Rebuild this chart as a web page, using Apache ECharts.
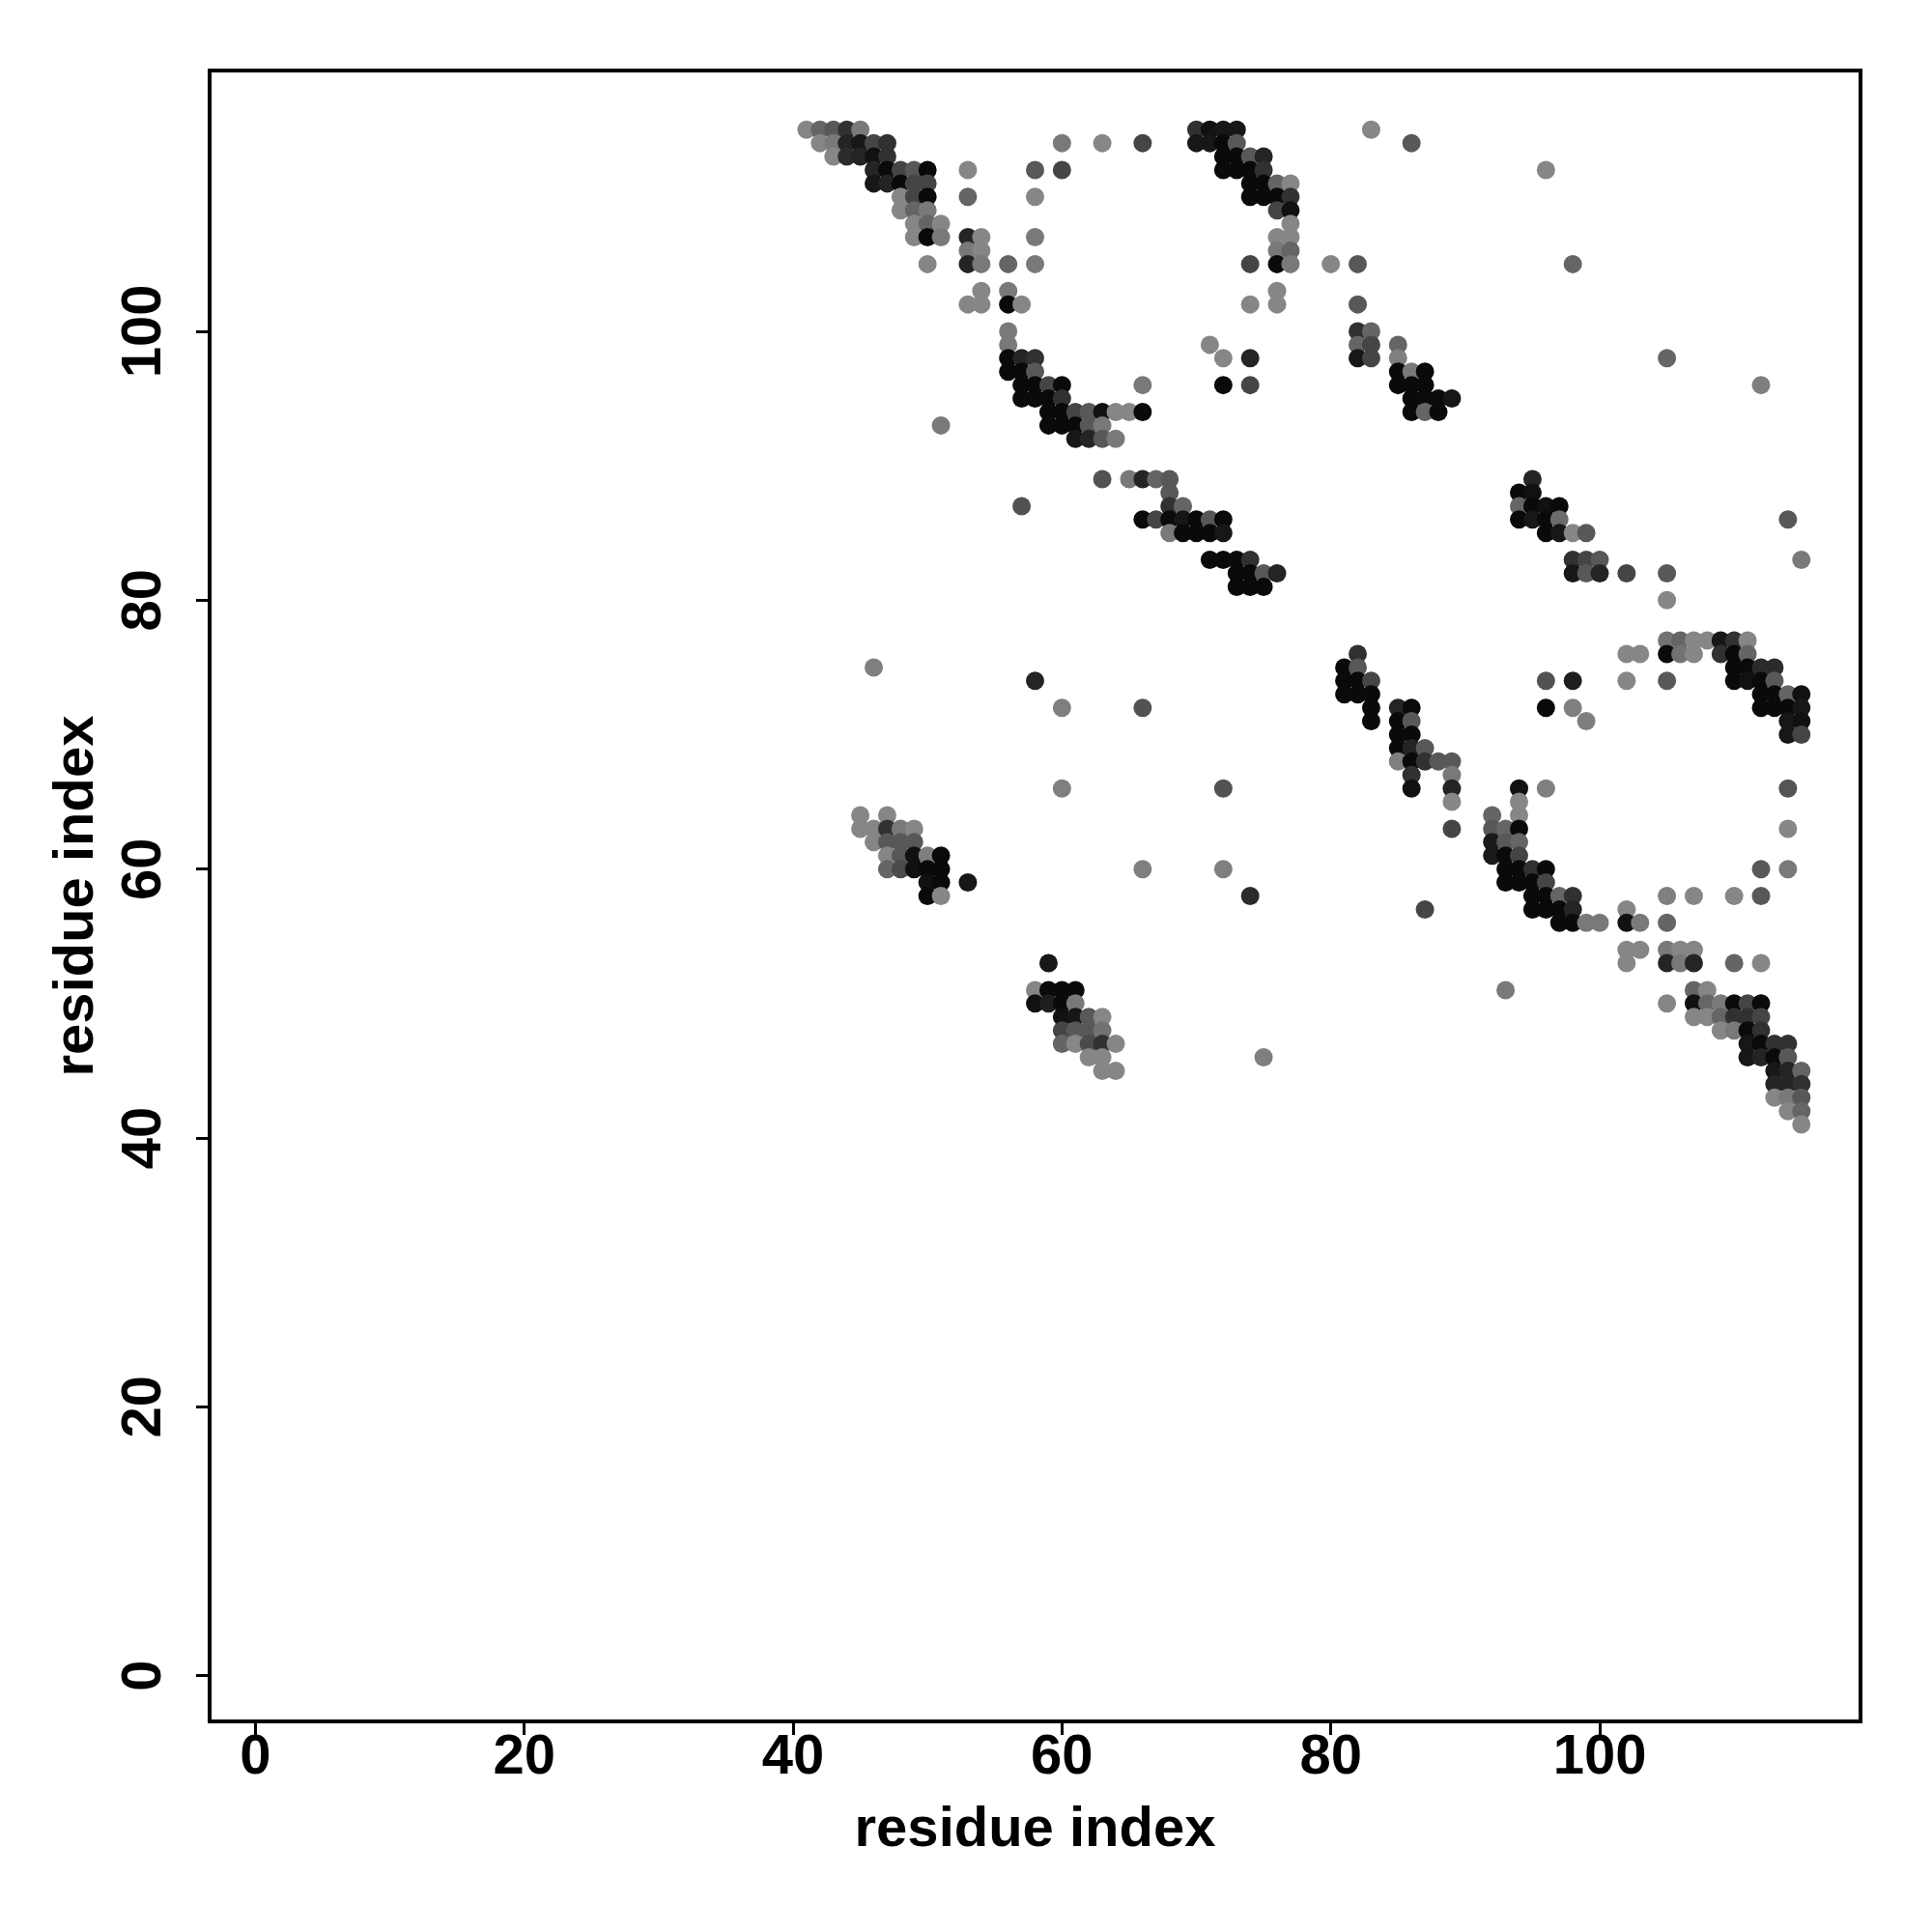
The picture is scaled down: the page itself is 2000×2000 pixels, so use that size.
<!DOCTYPE html>
<html>
<head>
<meta charset="utf-8">
<script src="https://cdn.jsdelivr.net/npm/echarts@6/dist/echarts.min.js"></script>
<style>html,body{margin:0;padding:0;background:#fff}#c{width:2000px;height:2000px}</style>
</head>
<body>
<div id="c"></div>
<script>
// Tick labels
const xTicks = [0, 20, 40, 60, 80, 100];
const yTicks = [0, 20, 40, 60, 80, 100];
const xTitle = 'residue index';
const yTitle = 'residue index';

// Contacts: [residue i, residue j, strength 0..1 (1 = darkest)]
const clusterTopLeft = [
 [41,115,.05],[42,115,.3],[43,115,.4],[44,115,.7],[45,115,.15],
 [42,114,.05],[43,114,.15],[44,114,.8],[45,114,.9],[46,114,.55],[47,114,.7],
 [43,113,.05],[44,113,.75],[45,113,.8],[46,113,.95],[47,113,.7],
 [46,112,.8],[47,112,1],[48,112,.55],[49,112,.4],[50,112,1],
 [46,111,.9],[47,111,.8],[48,111,1],[49,111,.55],[50,111,.55],
 [48,110,.05],[49,110,.55],[50,110,1],
 [48,109,.05],[49,109,.3],[50,109,.15],
 [49,108,.05],[50,108,.3],[51,108,.05],
 [49,107,.05],[50,107,1],[51,107,.15],
 [50,105,.05],
 [53,112,.05],[53,110,.3],[53,107,.8],[53,106,.15],[53,105,.8],[53,102,.05],
 [54,107,.05],[54,106,.05],[54,105,.15],[54,103,.05],[54,102,.05],
 [56,105,.3],[56,103,.15],[56,102,1],[57,102,.05],
 [56,100,.15],[56,99,.15],
 [56,98,1],[57,98,.8],[58,98,.7],
 [56,97,1],[57,97,1],[58,97,.4],
 [57,96,1],[58,96,1],[59,96,.55],[60,96,1],
 [57,95,1],[58,95,1],[59,95,1],[60,95,.7],
 [59,94,1],[60,94,1],[61,94,.55],[62,94,.4],[63,94,.95],[64,94,.05],[65,94,.05],[66,94,1],
 [59,93,1],[60,93,1],[61,93,1],[62,93,.4],[63,93,.15],
 [61,92,.9],[62,92,.8],[63,92,.4],[64,92,.15],
 [51,93,.15],
 [58,112,.4],[58,110,.05],[58,107,.15],[58,105,.15],
 [60,114,.15],[63,114,.05],[66,114,.55],[60,112,.55],[66,96,.15]
];
const clusterTopMid = [
 [70,115,.7],[71,115,.95],[72,115,.9],[73,115,.9],
 [70,114,.9],[71,114,.9],[72,114,1],[73,114,.4],
 [72,113,1],[73,113,1],[74,113,.4],[75,113,.8],
 [72,112,1],[73,112,1],[74,112,1],[75,112,.7],
 [74,111,1],[75,111,1],[76,111,.3],[77,111,.05],
 [74,110,1],[75,110,1],[76,110,1],[77,110,.7],
 [76,109,.55],[77,109,.95],
 [77,108,.05],
 [76,107,.05],[77,107,.05],
 [76,106,.15],[77,106,.3],
 [74,105,.55],[76,105,1],[77,105,.15],
 [76,103,.05],[74,102,.05],[76,102,.05],
 [71,99,.05],[72,98,.05],[74,98,.8],[72,96,1],[74,96,.55]
];
const clusterTopRight = [
 [83,115,.05],[86,114,.4],[96,112,.05],
 [80,105,.05],[82,105,.4],[98,105,.3],
 [82,102,.4],
 [82,100,.7],[83,100,.3],
 [82,99,.3],[83,99,.55],
 [82,98,.9],[83,98,.55],
 [85,99,.3],[85,98,.1],
 [85,97,1],[86,97,.15],[87,97,1],
 [85,96,1],[86,96,1],[87,96,1],
 [86,95,1],[87,95,1],[88,95,1],[89,95,.9],
 [86,94,1],[87,94,.3],[88,94,1],
 [105,98,.3],[112,96,.1]
];
const clusterMidLeft = [
 [57,87,.45],[46,75,.1],[58,74,.8],[60,72,.1],[60,66,.1],
 [63,89,.45],[65,89,.15],[66,89,.8],[67,89,.3],[68,89,.4],
 [68,88,.4],
 [68,87,.7],[69,87,.3],
 [66,86,1],[67,86,.55],[68,86,1],[69,86,.9],[70,86,1],[71,86,.4],[72,86,1],
 [68,85,.15],[69,85,1],[70,85,1],[71,85,1],[72,85,.9],
 [71,83,1],[72,83,1],[73,83,1],[74,83,.7],
 [73,82,1],[74,82,1],[75,82,.4],[76,82,.8],
 [73,81,1],[74,81,1],[75,81,1],
 [66,72,.45],[72,66,.45]
];
const clusterMidRight = [
 [95,89,.8],
 [94,88,1],[95,88,.95],
 [94,87,.3],[95,87,1],[96,87,.95],[97,87,1],
 [94,86,1],[95,86,.9],[96,86,1],[97,86,.25],
 [96,85,1],[97,85,.9],[98,85,.05],[99,85,.4],
 [98,83,.7],[99,83,.55],[100,83,.4],
 [98,82,.9],[99,82,.4],[100,82,.8],[102,82,.55],[105,82,.4],
 [105,80,.05],
 [82,76,.7],
 [81,75,1],[82,75,.4],
 [81,74,1],[82,74,1],[83,74,.55],
 [81,73,1],[82,73,1],[83,73,1],
 [83,72,1],[83,71,1],
 [85,72,.8],[86,72,1],
 [85,71,1],[86,71,.4],
 [85,70,1],[86,70,1],
 [85,69,1],[86,69,.8],[87,69,.4],
 [85,68,.1],[86,68,1],[87,68,.7],[88,68,.4],[89,68,.4],
 [86,67,.7],[89,67,.15],
 [86,66,.95],[89,66,.8],
 [89,65,.05],
 [94,66,.95],[96,66,.1],[94,65,.05],
 [96,74,.45],[98,74,.85],
 [96,72,1],[98,72,.1],[99,71,.1]
];
const clusterFarRight = [
 [114,86,.4],[115,83,.15],
 [105,77,.2],[106,77,.3],[107,77,.05],[108,77,.05],[109,77,.9],[110,77,.7],[111,77,.05],
 [102,76,.05],[103,76,.05],[105,76,1],[106,76,.2],[107,76,.05],[109,76,.7],[110,76,1],[111,76,.3],
 [110,75,1],[111,75,1],[112,75,.75],[113,75,.75],
 [102,74,.05],[105,74,.4],[110,74,1],[111,74,.95],[112,74,1],[113,74,.4],
 [112,73,1],[113,73,1],[114,73,.3],[115,73,.95],
 [112,72,1],[113,72,1],[114,72,1],[115,72,.9],
 [114,71,.9],[115,71,.95],
 [114,70,.9],[115,70,.55],
 [114,66,.42]
];
const clusterLowLeft = [
 [45,64,.05],[47,64,.05],
 [45,63,.05],[46,63,.05],[47,63,.7],[48,63,.15],[49,63,.05],
 [46,62,.05],[47,62,.4],[48,62,.4],[49,62,.4],
 [47,61,.05],[48,61,.4],[49,61,.95],[50,61,.1],[51,61,1],
 [47,60,.3],[48,60,.5],[49,60,.95],[50,60,1],[51,60,1],
 [50,59,.95],[51,59,1],[53,59,.9],
 [50,58,1],[51,58,.05]
];
const clusterLowMid = [
 [59,53,.9],
 [58,51,.05],[59,51,1],[60,51,1],[61,51,1],
 [58,50,.95],[59,50,.85],[60,50,1],[61,50,.15],
 [60,49,.95],[61,49,.9],[62,49,.4],[63,49,.05],
 [60,48,.55],[61,48,.4],[62,48,.4],[63,48,.2],
 [60,47,.3],[61,47,.05],[62,47,.5],[63,47,.7],[64,47,.05],
 [62,46,.05],[63,46,.05],
 [63,45,.05],[64,45,.05],
 [66,60,.1],[72,60,.1],[74,58,.75],[75,46,.1]
];
const clusterLowRight = [
 [92,64,.3],[94,64,.05],
 [89,63,.55],[92,63,.4],[93,63,.3],[94,63,1],
 [92,62,.88],[93,62,.4],[94,62,.3],
 [92,61,.88],[93,61,1],[94,61,.55],
 [93,60,1],[94,60,1],[95,60,.7],[96,60,1],
 [93,59,1],[94,59,1],[95,59,1],[96,59,.55],
 [95,58,1],[96,58,1],[97,58,.3],[98,58,.7],
 [95,57,1],[96,57,1],[97,57,1],[98,57,.8],
 [97,56,1],[98,56,1],[99,56,.15],[100,56,.15],
 [87,57,.55],[93,51,.15]
];
const clusterBottomRight = [
 [114,63,.05],
 [112,60,.4],[114,60,.15],
 [105,58,.1],[107,58,.05],[110,58,.05],[112,58,.4],
 [102,57,.05],
 [102,56,.95],[103,56,.15],[105,56,.3],
 [102,54,.05],[103,54,.05],[105,54,.15],[106,54,.05],[107,54,.05],
 [102,53,.05],[105,53,.8],[106,53,.15],[107,53,.8],[110,53,.3],[112,53,.05],
 [107,51,.3],[108,51,.05],
 [105,50,.05],[107,50,.95],[108,50,.3],[109,50,.15],[110,50,1],[111,50,.55],[112,50,1],
 [107,49,.05],[108,49,.05],[109,49,.3],[110,49,.7],[111,49,.7],[112,49,.55],
 [109,48,.05],[110,48,.15],[111,48,1],[112,48,.7],
 [111,47,.9],[112,47,1],[113,47,.7],[114,47,.7],
 [111,46,.9],[112,46,.8],[113,46,1],[114,46,.4],
 [113,45,.9],[114,45,.8],[115,45,.3],
 [113,44,.8],[114,44,.8],[115,44,.7],
 [113,43,.05],[114,43,.15],[115,43,.4],
 [114,42,.05],[115,42,.3],
 [115,41,.05]
];

const allContacts = [].concat(clusterTopLeft, clusterTopMid, clusterTopRight,
  clusterMidLeft, clusterMidRight, clusterFarRight, clusterLowLeft,
  clusterLowMid, clusterLowRight, clusterBottomRight);

const FONT = 'Liberation Sans, Arial, Helvetica, sans-serif';
const chart = echarts.init(document.getElementById('c'), null, {renderer: 'canvas'});
const axisCommon = {
  type: 'value', min: -3.4, max: 119.4,
  splitLine: {show: false},
  axisLine: {show: true, onZero: false, lineStyle: {color: '#000', width: 4}},
  nameLocation: 'middle',
  nameTextStyle: {fontSize: 58, fontWeight: 'bold', fontFamily: FONT, color: '#000'}
};
chart.setOption({
  animation: false,
  backgroundColor: '#fff',
  grid: {left: 217, top: 73, width: 1709, height: 1709, show: true,
         borderColor: '#000', borderWidth: 4, backgroundColor: 'transparent'},
  visualMap: {type: 'continuous', show: false, min: 0, max: 1, dimension: 2,
              inRange: {color: ['#8c8c8c', '#0a0a0a']}},
  xAxis: Object.assign({}, axisCommon, {
    name: xTitle, nameGap: 84,
    axisTick: {show: true, inside: false, length: 14, customValues: xTicks,
               lineStyle: {color: '#000', width: 3}},
    axisLabel: {customValues: xTicks, fontSize: 58, fontWeight: 'bold', fontFamily: FONT,
                color: '#000', margin: 9}
  }),
  yAxis: Object.assign({}, axisCommon, {
    name: yTitle, nameGap: 108,
    axisTick: {show: true, inside: false, length: 14, customValues: yTicks,
               lineStyle: {color: '#000', width: 3}},
    axisLabel: {customValues: yTicks, fontSize: 58, fontWeight: 'bold', fontFamily: FONT,
                color: '#000', margin: 38, rotate: 90}
  }),
  series: [{
    type: 'scatter', symbol: 'circle', symbolSize: 19, silent: true,
    itemStyle: {opacity: 1},
    data: allContacts
  }]
});
</script>
</body>
</html>
